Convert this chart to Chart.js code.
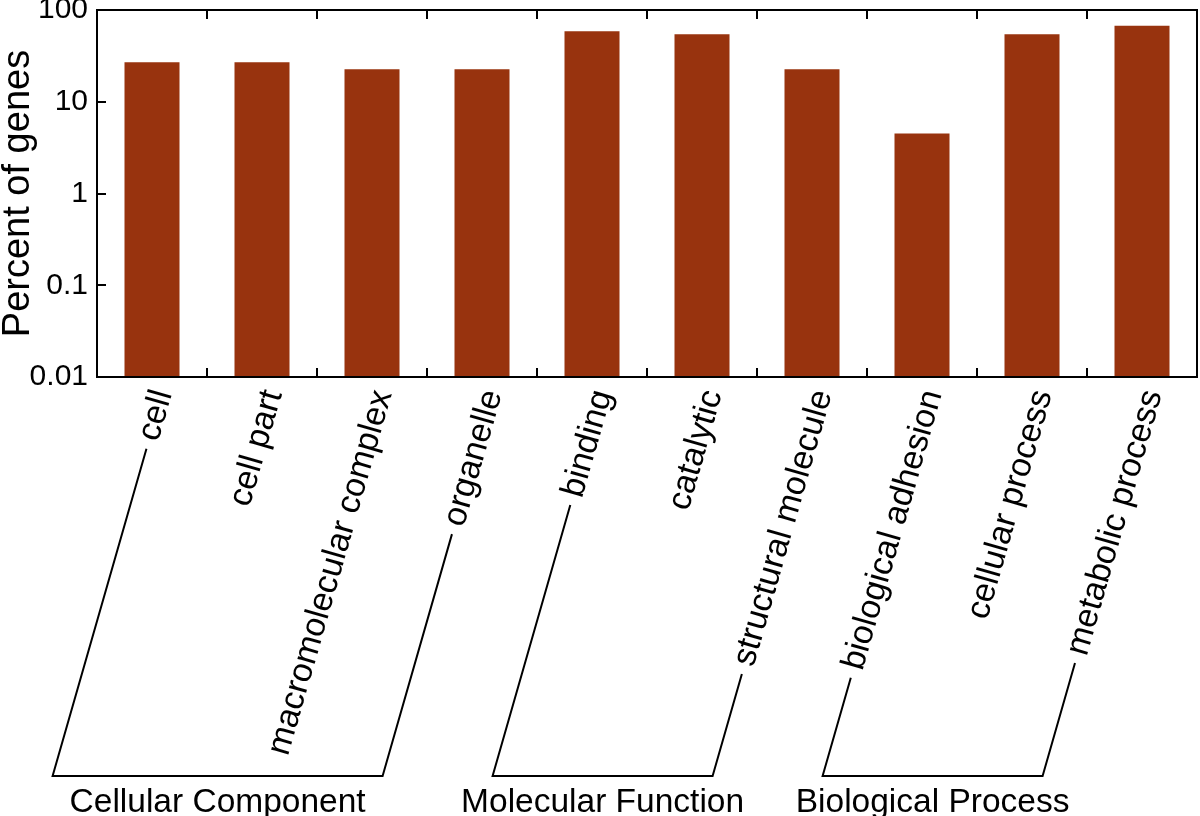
<!DOCTYPE html>
<html lang="en">
<head>
<meta charset="UTF-8" />
<title>Percent of genes by GO category</title>
<script src="https://cdn.jsdelivr.net/npm/chart.js"></script>
<style>
  body { margin: 0; background: #fff; }
  #wrap { width: 1200px; height: 816px; }
</style>
</head>
<body>
<div id="wrap"><canvas id="goChart"></canvas></div>
<script>
const categories = ["cell", "cell part", "macromolecular complex", "organelle", "binding",
  "catalytic", "structural molecule", "biological adhesion", "cellular process", "metabolic process"];
const percentGenes = [26.9, 26.9, 22.6, 22.6, 58.6, 54.4, 22.6, 4.5, 54.4, 67.4];

const groupNames = ["Cellular Component", "Molecular Function", "Biological Process"];
const groupStart = [0, 4, 7];
const groupEnd = [3, 6, 9];

const yTicks = [0.01, 0.1, 1, 10, 100];
const yTickLabels = ["0.01", "0.1", "1", "10", "100"];

const FONT = '"Liberation Sans", Arial, Helvetica, sans-serif';
const ANGLE = 74 * Math.PI / 180;

// frame, inward ticks, slanted labels and the group brackets
const decorations = {
  id: "decorations",
  afterDraw(chart) {
    const { ctx, chartArea: a, scales: { x, y } } = chart;
    ctx.save();
    ctx.strokeStyle = "#000";
    ctx.lineWidth = 2;
    ctx.strokeRect(a.left, a.top, a.right - a.left, a.bottom - a.top);

    ctx.beginPath();
    yTicks.forEach(v => {
      const py = Math.round(y.getPixelForValue(v));
      ctx.moveTo(a.left, py);
      ctx.lineTo(a.left + 9, py);
    });
    for (let i = 1; i < categories.length; i++) {
      const px = Math.round((x.getPixelForValue(i - 1) + x.getPixelForValue(i)) / 2);
      ctx.moveTo(px, a.top);
      ctx.lineTo(px, a.top + 9);
      ctx.moveTo(px, a.bottom);
      ctx.lineTo(px, a.bottom - 9);
    }
    ctx.stroke();

    ctx.font = `34px ${FONT}`;
    ctx.fillStyle = "#000";
    const ux = Math.cos(ANGLE), uy = -Math.sin(ANGLE);
    const starts = categories.map((c, i) => {
      const ax = x.getPixelForValue(i) + 11, ay = a.bottom + 14;
      ctx.save();
      ctx.translate(ax, ay);
      ctx.rotate(-ANGLE);
      ctx.textAlign = "right";
      ctx.textBaseline = "middle";
      ctx.fillText(c, 0, 0);
      ctx.restore();
      const w = ctx.measureText(c).width;
      return [ax - w * ux, ay - w * uy];
    });

    const baseY = 776, gap = 9;
    ctx.lineWidth = 2;
    groupNames.forEach((g, k) => {
      const pts = [groupStart[k], groupEnd[k]].map(i => {
        const tx = starts[i][0] - gap * ux, ty = starts[i][1] - gap * uy;
        const t = (baseY - ty) / Math.sin(ANGLE);
        return [[tx, ty], [tx - t * ux, baseY]];
      });
      ctx.beginPath();
      ctx.moveTo(pts[0][0][0], pts[0][0][1]);
      ctx.lineTo(pts[0][1][0], pts[0][1][1]);
      ctx.lineTo(pts[1][1][0], pts[1][1][1]);
      ctx.lineTo(pts[1][0][0], pts[1][0][1]);
      ctx.stroke();
      ctx.font = `33.5px ${FONT}`;
      ctx.textAlign = "center";
      ctx.textBaseline = "alphabetic";
      ctx.fillText(g, (pts[0][1][0] + pts[1][1][0]) / 2, 812);
    });
    ctx.restore();
  }
};

new Chart(document.getElementById("goChart"), {
  type: "bar",
  data: {
    labels: categories,
    datasets: [{
      data: percentGenes,
      backgroundColor: "#98330e",
      barPercentage: 0.5,
      categoryPercentage: 1
    }]
  },
  options: {
    responsive: true,
    maintainAspectRatio: false,
    animation: false,
    layout: { padding: { left: 0, top: 10, right: 3, bottom: 439 } },
    plugins: { legend: { display: false }, tooltip: { enabled: false } },
    scales: {
      x: { display: false },
      y: {
        type: "logarithmic",
        min: 0.01,
        max: 100,
        afterBuildTicks: s => { s.ticks = yTicks.map(v => ({ value: v })); },
        afterFit: s => { s.width = 97; s.paddingTop = 0; s.paddingBottom = 0; },
        grid: { display: false, drawTicks: false },
        border: { display: false },
        ticks: {
          padding: 9,
          color: "#000",
          font: { family: FONT, size: 30 },
          callback: (v, i) => yTickLabels[i]
        },
        title: {
          display: true,
          text: "Percent of genes",
          color: "#000",
          font: { family: FONT, size: 38, lineHeight: 1 },
          padding: 0
        }
      }
    }
  },
  plugins: [decorations]
});
</script>
</body>
</html>
